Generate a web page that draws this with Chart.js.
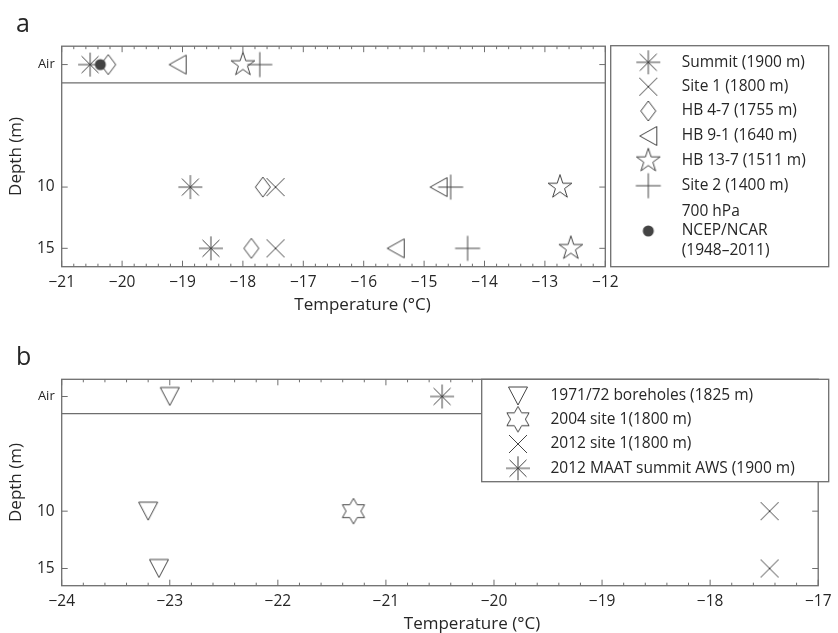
<!DOCTYPE html>
<html><head><meta charset="utf-8">
<script src="https://cdn.jsdelivr.net/npm/chart.js@4.4.0/dist/chart.umd.min.js"></script>
<style>
html,body{margin:0;padding:0;background:#fff;}
#wrap{position:relative;width:838px;height:633px;}
canvas{position:absolute;left:0;top:0;}
</style></head><body>
<div id="wrap"><canvas id="ca" width="838" height="633"></canvas><canvas id="cb" width="838" height="633"></canvas></div>
<script>
// ---------- data ----------
const depthLevels = [0, 10, 15];            // Air, 10 m, 15 m
const depthTickLabels = ['Air', '10', '15'];
const separatorDepth = 1.5;

// panel a (values at Air, 10 m, 15 m)
const namesA = ['Summit (1900 m)', 'Site 1 (1800 m)', 'HB 4-7 (1755 m)', 'HB 9-1 (1640 m)',
                'HB 13-7 (1511 m)', 'Site 2 (1400 m)', ['700 hPa', 'NCEP/NCAR', '(1948\u20132011)']];
const summitA = [-20.53, -18.87, -18.53];
const site1A  = [null, -17.46, -17.46];
const hb47A   = [-20.23, -17.67, -17.86];
const hb91A   = [-19.08, -14.76, -15.47];
const hb137A  = [-18.00, -12.75, -12.57];
const site2A  = [-17.72, -14.56, -14.28];
const ncepA   = [-20.36, null, null];
const xRangeA = [-21, -12];

// panel b
const namesB = ['1971/72 boreholes (1825 m)', '2004 site 1(1800 m)', '2012 site 1(1800 m)', '2012 MAAT summit AWS (1900 m)'];
const bore7172B = [-23.0, -23.2, -23.1];
const site2004B = [null, -21.3, null];
const site2012B = [null, -17.45, -17.45];
const awsB      = [-20.48, null, null];
const xRangeB = [-24, -17];

// ---------- styles ----------
const C_MARK = '#444', C_AXIS = '#6e6e6e', C_TEXT = '#262626';
const FONT = '"Open Sans", sans-serif';

function marker(draw, fill) {
  const S = 34, c = document.createElement('canvas');
  c.width = S; c.height = S;
  const g = c.getContext('2d');
  g.translate(S / 2, S / 2);
  g.strokeStyle = C_MARK; g.fillStyle = C_MARK; g.lineWidth = 1;
  g.beginPath(); draw(g);
  if (fill) g.fill(); else g.stroke();
  return c;
}
function starPath(g, n, R, r) {
  for (let i = 0; i < 2 * n; i++) {
    const a = -Math.PI / 2 + i * Math.PI / n, rr = i % 2 ? r : R;
    const px = Math.cos(a) * rr, py = Math.sin(a) * rr;
    if (i === 0) g.moveTo(px, py); else g.lineTo(px, py);
  }
  g.closePath();
}
const M = {
  asterisk: marker(g => { const r = 12, d = 8.5;
    g.moveTo(-r, 0); g.lineTo(r, 0); g.moveTo(0, -r); g.lineTo(0, r);
    g.moveTo(-d, -d); g.lineTo(d, d); g.moveTo(-d, d); g.lineTo(d, -d); }),
  xcross: marker(g => { const h = 9; g.moveTo(-h, -h); g.lineTo(h, h); g.moveTo(-h, h); g.lineTo(h, -h); }),
  plus: marker(g => { const r = 12.5; g.moveTo(-r, 0); g.lineTo(r, 0); g.moveTo(0, -r); g.lineTo(0, r); }),
  diamond: marker(g => { g.moveTo(0, -10); g.lineTo(7.5, 0); g.lineTo(0, 10); g.lineTo(-7.5, 0); g.closePath(); }),
  triLeft: marker(g => { g.moveTo(-8.5, 0); g.lineTo(8.5, -9.5); g.lineTo(8.5, 9.5); g.closePath(); }),
  triDown: marker(g => { g.moveTo(-9.5, -9); g.lineTo(9.5, -9); g.lineTo(0, 9); g.closePath(); }),
  pentagram: marker(g => starPath(g, 5, 12.5, 12.5 * 0.382)),
  hexagram: marker(g => starPath(g, 6, 12.8, 12.8 / Math.sqrt(3))),
  dot: marker(g => g.arc(0, 0, 5.5, 0, Math.PI * 2), true),
};

const panelA = {
  id: 'ca', label: 'a', xRange: xRangeA,
  area: { left: 61.7, top: 46.2, right: 605.3, bottom: 266.7 },
  series: [
    { name: namesA[0], values: summitA, marker: M.asterisk },
    { name: namesA[1], values: site1A,  marker: M.xcross },
    { name: namesA[2], values: hb47A,   marker: M.diamond },
    { name: namesA[3], values: hb91A,   marker: M.triLeft },
    { name: namesA[4], values: hb137A,  marker: M.pentagram },
    { name: namesA[5], values: site2A,  marker: M.plus },
    { name: namesA[6], values: ncepA,   marker: M.dot },
  ],
  legend: { l: 610.7, t: 45.7, r: 828.7, b: 266.7, mx: 648.3, tx: 681.7,
            rows: [62.3, 86.7, 111, 136, 160.7, 185.7, 231], lineGap: 19.5 },
  labelPos: [16, 32], titlePos: [362.5, 305],
};
const panelB = {
  id: 'cb', label: 'b', xRange: xRangeB,
  area: { left: 61.7, top: 379.3, right: 828.7, bottom: 585.7 },
  series: [
    { name: namesB[0], values: bore7172B, marker: M.triDown },
    { name: namesB[1], values: site2004B, marker: M.hexagram },
    { name: namesB[2], values: site2012B, marker: M.xcross },
    { name: namesB[3], values: awsB,      marker: M.asterisk },
  ],
  legend: { l: 481.7, t: 379.3, r: 828.7, b: 481.7, mx: 518, tx: 550.5,
            rows: [396, 419.3, 444, 468.3], lineGap: 19.5 },
  labelPos: [16, 365], titlePos: [472, 624],
};

function framePlugin(p) {
  return {
    id: 'frame',
    afterDraw(chart) {
      const { ctx, chartArea: a, scales: { x, y } } = chart;
      const line = (x1, y1, x2, y2) => { ctx.beginPath(); ctx.moveTo(x1, y1); ctx.lineTo(x2, y2); ctx.stroke(); };
      ctx.save();
      ctx.strokeStyle = C_AXIS;
      ctx.lineWidth = 1;
      const n = Math.round((x.max - x.min) / 0.2);
      for (let k = 0; k <= n; k++) {
        const px = x.getPixelForValue(x.min + k * 0.2);
        const len = k % 5 === 0 ? 6 : 3;
        line(px, a.bottom, px, a.bottom - len);
        line(px, a.top, px, a.top + len);
      }
      for (const d of depthLevels) {
        const py = y.getPixelForValue(d);
        line(a.left, py, a.left + 6, py);
        line(a.right, py, a.right - 6, py);
      }
      ctx.lineWidth = 1.3;
      ctx.strokeRect(a.left, a.top, a.right - a.left, a.bottom - a.top);
      // legend
      const L = p.legend;
      ctx.fillStyle = '#fff';
      ctx.fillRect(L.l, L.t, L.r - L.l, L.b - L.t);
      ctx.strokeRect(L.l, L.t, L.r - L.l, L.b - L.t);
      ctx.font = '15.5px ' + FONT;
      ctx.fillStyle = C_TEXT;
      ctx.textBaseline = 'middle';
      ctx.textAlign = 'left';
      p.series.forEach((s, i) => {
        const ry = L.rows[i];
        ctx.drawImage(s.marker, L.mx - s.marker.width / 2, ry - s.marker.height / 2);
        const lines = Array.isArray(s.name) ? s.name : [s.name];
        lines.forEach((t, j) => ctx.fillText(t, L.tx, ry + (j - (lines.length - 1) / 2) * L.lineGap));
      });
      // panel label
      ctx.textBaseline = 'alphabetic';
      ctx.font = '25px ' + FONT;
      ctx.fillText(p.label, p.labelPos[0], p.labelPos[1]);
      // x title
      ctx.font = '17px ' + FONT;
      ctx.textAlign = 'center';
      ctx.textBaseline = 'middle';
      ctx.fillText('Temperature (\u00B0C)', p.titlePos[0], p.titlePos[1]);
      ctx.restore();
    }
  };
}

function buildChart(p) {
  const [xMin, xMax] = p.xRange;
  const datasets = p.series.map(s => ({
    label: Array.isArray(s.name) ? s.name.join(' ') : s.name,
    data: depthLevels.map((d, i) => s.values[i] == null ? null : { x: s.values[i], y: d }).filter(Boolean),
    pointStyle: s.marker, pointRadius: 12, pointHoverRadius: 12, showLine: false,
  }));
  datasets.push({
    label: 'separator', data: [{ x: xMin, y: separatorDepth }, { x: xMax, y: separatorDepth }],
    showLine: true, pointRadius: 0, borderColor: C_AXIS, borderWidth: 1.3, fill: false,
  });
  const A = p.area;
  return new Chart(document.getElementById(p.id), {
    type: 'scatter',
    data: { datasets },
    options: {
      responsive: false, animation: false, devicePixelRatio: 1, events: [],
      layout: { padding: { left: 0, top: A.top, right: 838 - A.right, bottom: 633 - A.bottom - 40 } },
      plugins: { legend: { display: false }, tooltip: { enabled: false } },
      scales: {
        x: {
          type: 'linear', position: 'bottom', min: xMin, max: xMax,
          grid: { display: false, drawTicks: false }, border: { display: false },
          ticks: { stepSize: 1, autoSkip: false, maxRotation: 0, padding: 6.5, color: C_TEXT,
                   font: { family: FONT, size: 15.5 },
                   callback: v => (v < 0 ? '\u2212' : '') + Math.abs(v) },
          afterFit: s => { s.height = 40; },
        },
        y: {
          type: 'linear', position: 'left', reverse: true, min: -1.5, max: 16.5,
          grid: { display: false, drawTicks: false }, border: { display: false },
          afterBuildTicks: s => { s.ticks = depthLevels.map(v => ({ value: v })); },
          ticks: { padding: 7, color: C_TEXT,
                   font: c => ({ family: FONT, size: (c.tick && c.tick.value === 0) ? 13 : 15.5 }),
                   callback: v => depthTickLabels[depthLevels.indexOf(v)] },
          title: { display: true, text: 'Depth (m)', color: C_TEXT, font: { family: FONT, size: 17 },
                   padding: { top: 6.3, bottom: 0 } },
          afterFit: s => { s.width = A.left; },
        },
      },
    },
    plugins: [framePlugin(p)],
  });
}
buildChart(panelA);
buildChart(panelB);
</script>
</body></html>
